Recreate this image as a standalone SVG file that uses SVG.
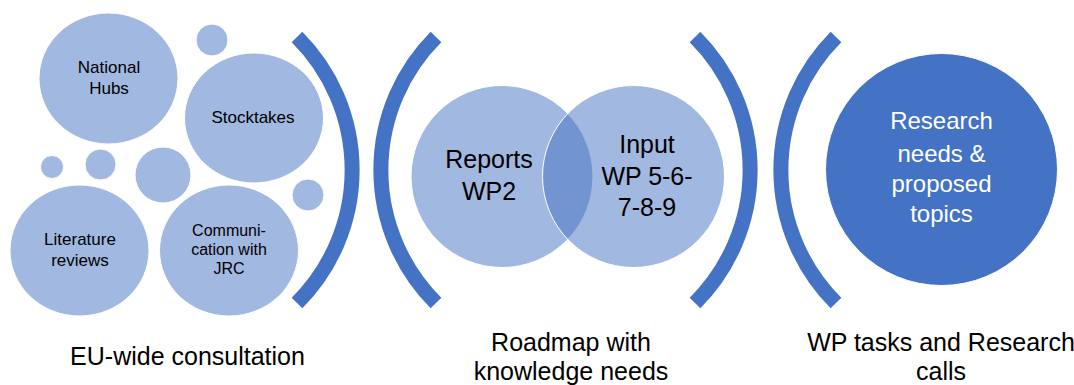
<svg xmlns="http://www.w3.org/2000/svg" width="1074" height="385" viewBox="0 0 1074 385">
  <style>
    .light { fill: #4472C4; fill-opacity: 0.5; stroke: #FFFFFF; stroke-width: 1; }
    .dark { fill: #4472C4; stroke: #FFFFFF; stroke-width: 1; }
    .bracket { fill: none; stroke: #4472C4; stroke-width: 15; stroke-linecap: butt; }
    text { font-family: "Liberation Sans", Arial, sans-serif; text-anchor: middle; fill: #000000; }
    .small { font-size: 17px; }
    .smaller { font-size: 16px; }
    .mid { font-size: 25px; }
    .inv { fill: #FFFFFF; font-size: 24px; }
    .caption { font-size: 25px; }
  </style>

  <!-- stage 1: EU-wide consultation cluster -->
  <g id="consultation">
    <g id="decor-bubbles">
      <circle class="light" cx="212" cy="40" r="16"/>
      <circle class="light" cx="52" cy="167" r="11.5"/>
      <circle class="light" cx="100.5" cy="164.5" r="15.5"/>
      <circle class="light" cx="163" cy="175" r="28"/>
      <circle class="light" cx="308" cy="195" r="16"/>
    </g>
    <g id="national-hubs">
      <ellipse class="light" cx="108.5" cy="78.5" rx="69.5" ry="65.5"/>
      <text class="small" x="109" y="73">National</text>
      <text class="small" x="109" y="94">Hubs</text>
    </g>
    <g id="stocktakes">
      <ellipse class="light" cx="254" cy="118" rx="69.5" ry="65"/>
      <text class="small" x="253" y="123">Stocktakes</text>
    </g>
    <g id="literature-reviews">
      <ellipse class="light" cx="79.5" cy="250.5" rx="69.5" ry="65.5"/>
      <text class="small" x="80" y="245">Literature</text>
      <text class="small" x="80" y="266">reviews</text>
    </g>
    <g id="communication-jrc">
      <ellipse class="light" cx="229" cy="250.5" rx="69.5" ry="65.5"/>
      <text class="smaller" x="229" y="236">Communi-</text>
      <text class="smaller" x="229" y="255">cation with</text>
      <text class="smaller" x="229" y="274">JRC</text>
    </g>
  </g>

  <!-- stage 2: roadmap venn -->
  <g id="roadmap">
    <g id="reports-wp2">
      <circle class="light" cx="502" cy="176.5" r="91"/>
    </g>
    <g id="input-wp">
      <circle class="light" cx="633.5" cy="176.5" r="91"/>
    </g>
    <text class="mid" x="489" y="168">Reports</text>
    <text class="mid" x="489" y="200">WP2</text>
    <text class="mid" x="647" y="153">Input</text>
    <text class="mid" x="647" y="185">WP 5-6-</text>
    <text class="mid" x="647" y="216">7-8-9</text>
  </g>

  <!-- stage 3: outcome -->
  <g id="research-needs">
    <circle class="dark" cx="941.5" cy="169.5" r="116"/>
    <text class="inv" x="941.5" y="129">Research</text>
    <text class="inv" x="941.5" y="162">needs &amp;</text>
    <text class="inv" x="941.5" y="192">proposed</text>
    <text class="inv" x="941.5" y="222">topics</text>
  </g>

  <!-- bracket arcs separating the stages -->
  <g id="connectors">
    <path class="bracket" d="M 297 37 A 188 188 0 0 1 297 303"/>
    <path class="bracket" d="M 436 37 A 188 188 0 0 0 436 303"/>
    <path class="bracket" d="M 695 37 A 188 188 0 0 1 695 303"/>
    <path class="bracket" d="M 836 37 A 188 188 0 0 0 836 303"/>
  </g>

  <!-- stage captions -->
  <g id="captions">
    <text class="caption" x="187.5" y="365">EU-wide consultation</text>
    <text class="caption" x="571" y="351">Roadmap with</text>
    <text class="caption" x="571" y="380">knowledge needs</text>
    <text class="caption" x="941" y="351">WP tasks and Research</text>
    <text class="caption" x="941" y="380">calls</text>
  </g>
</svg>
